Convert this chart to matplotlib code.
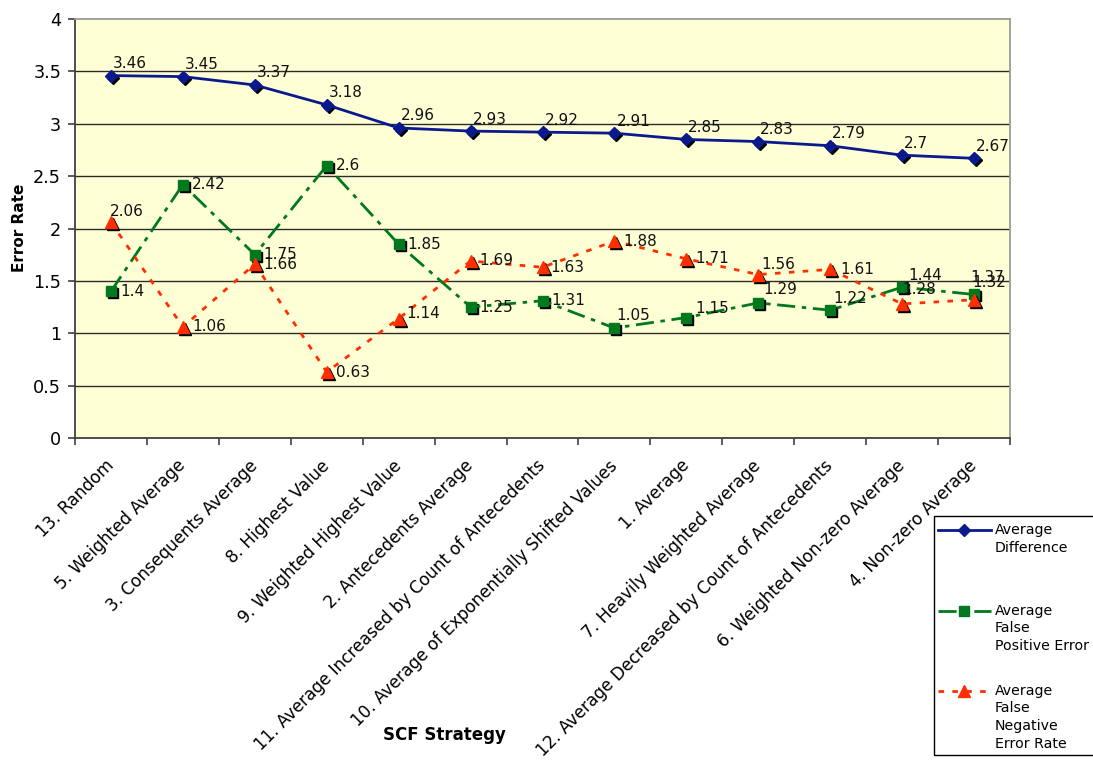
import numpy as np
import matplotlib
matplotlib.use("Agg")
import matplotlib.pyplot as plt
from matplotlib.transforms import ScaledTranslation
from matplotlib.lines import Line2D
from matplotlib.patches import Rectangle

# ---- data -------------------------------------------------------------
strategies = [
    "13. Random",
    "5. Weighted Average",
    "3. Consequents Average",
    "8. Highest Value",
    "9. Weighted Highest Value",
    "2. Antecedents Average",
    "11. Average Increased by Count of Antecedents",
    "10. Average of Exponentially Shifted Values",
    "1. Average",
    "7. Heavily Weighted Average",
    "12. Average Decreased by Count of Antecedents",
    "6. Weighted Non-zero Average",
    "4. Non-zero Average",
]
avg_difference = [3.46, 3.45, 3.37, 3.18, 2.96, 2.93, 2.92, 2.91, 2.85, 2.83, 2.79, 2.70, 2.67]
avg_false_positive = [1.40, 2.42, 1.75, 2.60, 1.85, 1.25, 1.31, 1.05, 1.15, 1.29, 1.22, 1.44, 1.37]
avg_false_negative = [2.06, 1.06, 1.66, 0.63, 1.14, 1.69, 1.63, 1.88, 1.71, 1.56, 1.61, 1.28, 1.32]

series_names = ["Average\nDifference",
                "Average\nFalse\nPositive Error",
                "Average\nFalse\nNegative\nError Rate"]

# ---- label placement (pixel offsets right / up from each point) -------
blue_offsets = [(2, 12)] * 13
green_offsets = [(9, 0), (9, 0), (9, 0), (9, 0), (9, 0), (9, 0), (9, 0),
                 (2, 13), (9, 9), (5, 13), (3, 12), (6, 12), (-4, 17)]
red_offsets = [(-1, 11), (9, 0), (9, 0), (9, 0), (8, 5), (9, 0), (8, 0),
               (9, 0), (9, 0), (3, 10), (10, 0), (0, 14), (-2, 17)]

# ---- style ------------------------------------------------------------
BLUE = "#0A1A8C"
GREEN = "#00781E"
RED = "#FF2E00"
PLOT_BG = "#FFFFD6"
FONT = "DejaVu Sans"
plt.rcParams["font.family"] = FONT

W, H, DPI = 1093, 762, 100
fig = plt.figure(figsize=(W / DPI, H / DPI), dpi=DPI)
fig.patch.set_facecolor("white")

L, R, T, B = 75, 1010, 19, 438
ax = fig.add_axes([L / W, 1 - B / H, (R - L) / W, (B - T) / H])
ax.set_facecolor(PLOT_BG)

x = np.arange(len(strategies))
px = 1 / DPI
shadow = ax.transData + ScaledTranslation(2 * px, -2 * px, fig.dpi_scale_trans)

green_dash = (0, (6.5, 2.4, 1.6, 2.4))
red_dash = (0, (2.0, 3.0))

styles = [
    dict(values=avg_difference, color=BLUE, ls="-", marker="D", ms=6.0, offs=blue_offsets),
    dict(values=avg_false_positive, color=GREEN, ls=green_dash, marker="s", ms=7.8, offs=green_offsets),
    dict(values=avg_false_negative, color=RED, ls=red_dash, marker="^", ms=9.0, offs=red_offsets),
]

for z, st in enumerate(styles):
    base = 3 + z * 3
    ax.plot(x, st["values"], linestyle="none", marker=st["marker"], ms=st["ms"],
            color="black", mec="black", transform=shadow, zorder=base)
    ax.plot(x, st["values"], linestyle=st["ls"], lw=2.0, color=st["color"],
            marker=st["marker"], ms=st["ms"], mfc=st["color"], mec=st["color"],
            zorder=base + 1)

for st in styles:
    for xi, v, (dx, dy) in zip(x, st["values"], st["offs"]):
        ax.annotate(f"{v:g}", (xi, v), xytext=(dx * 0.72, dy * 0.72),
                    textcoords="offset points", ha="left", va="center",
                    fontsize=11, color="#111111", zorder=20)

# axes, grid, ticks
ax.set_xlim(-0.5, len(strategies) - 0.5)
ax.set_ylim(0, 4)
ax.set_yticks(np.arange(0, 4.01, 0.5))
ax.set_yticklabels([f"{t:g}" for t in np.arange(0, 4.01, 0.5)])
for yv in np.arange(0.5, 3.6, 0.5):
    ax.axhline(yv, color="#2b2b2b", lw=1.0, zorder=1)

ax.set_xticks(x)
ax.set_xticklabels(strategies, rotation=45, ha="right", va="center",
                   rotation_mode="anchor", fontsize=12.2)
shift = ScaledTranslation(-16 * px, 0, fig.dpi_scale_trans)
for lab in ax.get_xticklabels():
    lab.set_transform(lab.get_transform() + shift)
ax.set_xticks(np.arange(-0.5, len(strategies), 1.0), minor=True)
ax.tick_params(axis="x", which="major", length=0, pad=18)
ax.tick_params(axis="x", which="minor", length=5, width=1.2, color="#404040", direction="out")
ax.tick_params(axis="y", length=5, width=1.2, color="#404040", pad=5, labelsize=12.7)

for side in ("left", "bottom"):
    ax.spines[side].set_color("#404040")
    ax.spines[side].set_linewidth(1.3)
for side in ("top", "right"):
    ax.spines[side].set_color("#9a9a9a")
    ax.spines[side].set_linewidth(1.3)

fig.text(20 / W, 1 - 228 / H, "Error Rate", rotation=90, ha="center", va="center",
         fontsize=11, fontweight="bold")
fig.text(444 / W, 1 - 735 / H, "SCF Strategy", ha="center", va="center",
         fontsize=12, fontweight="bold")

# ---- legend box -------------------------------------------------------
def fx(p):
    return p / W


def fy(p):
    return 1 - p / H


fig.patches.append(Rectangle((fx(934), fy(755)), fx(1100) - fx(934), fy(516) - fy(755),
                             transform=fig.transFigure, facecolor="white",
                             edgecolor="black", lw=1.0, zorder=30))
entry_y = [530, 611, 691]
for st, name, yy in zip(styles, series_names, entry_y):
    fig.lines.append(Line2D([fx(938), fx(991)], [fy(yy), fy(yy)], transform=fig.transFigure,
                            color=st["color"], lw=2.0, linestyle=st["ls"], zorder=31))
    fig.lines.append(Line2D([fx(964)], [fy(yy)], transform=fig.transFigure,
                            marker=st["marker"], ms=st["ms"], color=st["color"],
                            linestyle="none", zorder=32))
    for k, line in enumerate(name.split("\n")):
        fig.text(fx(995), fy(yy + 17.5 * k), line, ha="left", va="center",
                 fontsize=10.2, zorder=33)

fig.savefig("out.png", dpi=DPI, facecolor="white")
